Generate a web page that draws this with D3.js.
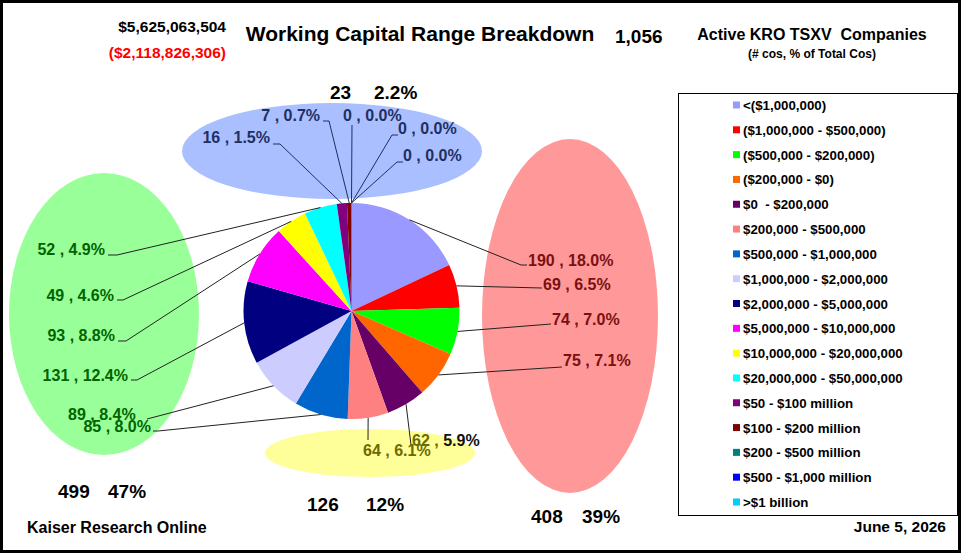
<!DOCTYPE html>
<html>
<head>
<meta charset="utf-8">
<script src="https://cdn.jsdelivr.net/npm/d3@7"></script>
<style>
  body { margin: 0; background: #fff; }
  svg { display: block; font-family: "Liberation Sans", Arial, sans-serif; font-weight: bold; }
</style>
</head>
<body>
<svg id="chart" width="962" height="554"></svg>
<script>
// working capital ranges, in pie order (clockwise from 12 o'clock)
var categories = [
    "<($1,000,000)", "($1,000,000 - $500,000)", "($500,000 - $200,000)", "($200,000 - $0)",
    "$0  - $200,000", "$200,000 - $500,000", "$500,000 - $1,000,000", "$1,000,000 - $2,000,000",
    "$2,000,000 - $5,000,000", "$5,000,000 - $10,000,000", "$10,000,000 - $20,000,000",
    "$20,000,000 - $50,000,000", "$50 - $100 million", "$100 - $200 million",
    "$200 - $500 million", "$500 - $1,000 million", ">$1 billion"
];
var counts = [190, 69, 74, 75, 62, 64, 85, 89, 131, 93, 49, 52, 16, 7, 0, 0, 0];
var sliceColors = [
    "#9999FF", "#FF0000", "#00FF00", "#FF6600", "#660066", "#FF8080", "#0066CC", "#CCCCFF",
    "#000080", "#FF00FF", "#FFFF00", "#00FFFF", "#800080", "#800000", "#008080", "#0000FF", "#00CCFF"
];
// which bubble each range belongs to: 0 top, 1 right, 2 bottom, 3 left
var sliceGroup = [1, 1, 1, 1, 2, 2, 3, 3, 3, 3, 3, 3, 0, 0, 0, 0, 0];
var totalPositive = "$5,625,063,504";
var totalNegative = "($2,118,826,306)";
var chartDate = "June 5, 2026";

// layout only (bubbles, group totals placement)
var groupStyle = [
    { fill: "#AABFFF", text: "#1F2F62", line: "#1F2F62", cx: 332, cy: 151, rx: 150, ry: 48, nx: 330, px: 374, ty: 99 },
    { fill: "#FF9999", text: "#7A1010", line: "#222", cx: 570, cy: 316, rx: 88, ry: 177, nx: 531, px: 582, ty: 523 },
    { fill: "#FFFF99", text: "#6B6B00", line: "#222", cx: 370, cy: 453, rx: 105, ry: 24, nx: 307, px: 366, ty: 511 },
    { fill: "#99FF99", text: "#006400", line: "#222", cx: 104, cy: 314, rx: 95, ry: 141, nx: 58, px: 108, ty: 498 }
];
// x,y: text position; a: anchor; ex,ey: end of leader; hx: horizontal tail end
var labelPos = [
    { x: 528, y: 266, a: "start", ex: 521, ey: 265, hx: 527 },
    { x: 543, y: 290, a: "start", ex: 542, ey: 288, hx: 542 },
    { x: 552, y: 325, a: "start", ex: 551, ey: 324, hx: 551 },
    { x: 563, y: 366, a: "start", ex: 562, ey: 367, hx: 562 },
    { x: 412, y: 446, a: "start", ex: 411, ey: 445, hx: 411 },
    { x: 363, y: 456, a: "start", ex: 368, ey: 440, hx: 368 },
    { x: 151, y: 432, a: "end", ex: 158, ey: 431, hx: 153 },
    { x: 68, y: 420, a: "start", ex: 147, ey: 419, hx: 147 },
    { x: 128, y: 381, a: "end", ex: 137, ey: 380, hx: 131 },
    { x: 115, y: 341, a: "end", ex: 126, ey: 341, hx: 118 },
    { x: 114, y: 301, a: "end", ex: 123, ey: 300, hx: 117 },
    { x: 105, y: 255, a: "end", ex: 117, ey: 255, hx: 108 },
    { x: 270, y: 143, a: "end", ex: 280, ey: 144, hx: 273 },
    { x: 320, y: 121, a: "end", ex: 329, ey: 121, hx: 323 },
    { x: 343, y: 121, a: "start", ex: 352, ey: 125, hx: 352 },
    { x: 398, y: 134, a: "start", ex: 392, ey: 135, hx: 398 },
    { x: 403, y: 161, a: "start", ex: 397, ey: 162, hx: 403 }
];

var svg = d3.select("#chart");
var total = d3.sum(counts);
var cx = 351.5, cy = 311, radius = 108;

svg.append("rect").attr("x", 1.5).attr("y", 1.5).attr("width", 958).attr("height", 550)
    .attr("fill", "#fff").attr("stroke", "#000").attr("stroke-width", 3);

// bubbles behind the pie
svg.selectAll("ellipse.group").data(groupStyle).enter().append("ellipse")
    .attr("class", "group")
    .attr("cx", function(d) { return d.cx; })
    .attr("cy", function(d) { return d.cy; })
    .attr("rx", function(d) { return d.rx; })
    .attr("ry", function(d) { return d.ry; })
    .attr("fill", function(d) { return d.fill; });

var pie = d3.pie().sort(null).value(function(d) { return d; });
var arcs = pie(counts);
var arc = d3.arc().innerRadius(0).outerRadius(radius);
var edge = d3.arc().innerRadius(radius).outerRadius(radius);

var pieG = svg.append("g").attr("transform", "translate(" + cx + "," + cy + ")");
pieG.selectAll("path").data(arcs).enter().append("path")
    .attr("d", arc)
    .attr("fill", function(d, i) { return sliceColors[i]; });

// leader lines
svg.selectAll("path.leader").data(arcs).enter().append("path")
    .attr("class", "leader")
    .attr("fill", "none")
    .attr("stroke-width", 1)
    .attr("stroke", function(d, i) { return groupStyle[sliceGroup[i]].line; })
    .attr("d", function(d, i) {
        var p = edge.centroid(d), l = labelPos[i];
        return "M" + (p[0] + cx) + "," + (p[1] + cy) + "L" + l.ex + "," + l.ey + "L" + l.hx + "," + l.ey;
    });

// data labels
svg.selectAll("text.lbl").data(arcs).enter().append("text")
    .attr("class", "lbl")
    .attr("x", function(d, i) { return labelPos[i].x; })
    .attr("y", function(d, i) { return labelPos[i].y; })
    .attr("text-anchor", function(d, i) { return labelPos[i].a; })
    .attr("font-size", 16)
    .attr("fill", function(d, i) { return groupStyle[sliceGroup[i]].text; })
    .each(function(d, i) {
        var t = d3.select(this);
        var pct = (d.value / total * 100).toFixed(1) + "%";
        if (i === 4) {
            t.append("tspan").text(d.value + " , ");
            t.append("tspan").attr("fill", "#111").text(pct);
        } else {
            t.text(d.value + " , " + pct);
        }
    });

// group totals
groupStyle.forEach(function(g, gi) {
    var n = d3.sum(counts.filter(function(c, i) { return sliceGroup[i] === gi; }));
    var pct = n / total * 100;
    svg.append("text").attr("x", g.nx).attr("y", g.ty).attr("font-size", 19).text(n);
    svg.append("text").attr("x", g.px).attr("y", g.ty).attr("font-size", 19)
        .text((gi === 0 ? pct.toFixed(1) : pct.toFixed(0)) + "%");
});

// titles
svg.append("text").attr("x", 420).attr("y", 41).attr("text-anchor", "middle")
    .attr("font-size", 21).text("Working Capital Range Breakdown");
svg.append("text").attr("x", 226).attr("y", 32).attr("text-anchor", "end")
    .attr("font-size", 15.5).text(totalPositive);
svg.append("text").attr("x", 226).attr("y", 58).attr("text-anchor", "end")
    .attr("font-size", 15.5).attr("fill", "#FF0000").text(totalNegative);
svg.append("text").attr("x", 615).attr("y", 43).attr("font-size", 19).text(d3.format(",")(total));
svg.append("text").attr("x", 812).attr("y", 40).attr("text-anchor", "middle")
    .attr("font-size", 16).attr("xml:space", "preserve").text("Active KRO TSXV  Companies");
svg.append("text").attr("x", 812).attr("y", 58).attr("text-anchor", "middle")
    .attr("font-size", 12).text("(# cos, % of Total Cos)");
svg.append("text").attr("x", 27).attr("y", 533).attr("font-size", 16).text("Kaiser Research Online");
svg.append("text").attr("x", 946).attr("y", 532).attr("text-anchor", "end")
    .attr("font-size", 15.5).text(chartDate);

// legend
var legend = svg.append("g");
legend.append("rect").attr("x", 678.5).attr("y", 93.5).attr("width", 279).attr("height", 422)
    .attr("fill", "#fff").attr("stroke", "#000").attr("stroke-width", 1);
var rowY = d3.scalePoint().domain(d3.range(categories.length)).range([105, 502]);
var rows = legend.selectAll("g.row").data(categories).enter().append("g")
    .attr("class", "row")
    .attr("transform", function(d, i) { return "translate(733," + rowY(i) + ")"; });
rows.append("rect").attr("x", 0).attr("y", -3.5).attr("width", 7).attr("height", 7)
    .attr("fill", function(d, i) { return sliceColors[i]; });
rows.append("text").attr("x", 10).attr("y", 5).attr("font-size", 13.3)
    .attr("xml:space", "preserve").text(function(d) { return d; });
</script>
</body>
</html>
